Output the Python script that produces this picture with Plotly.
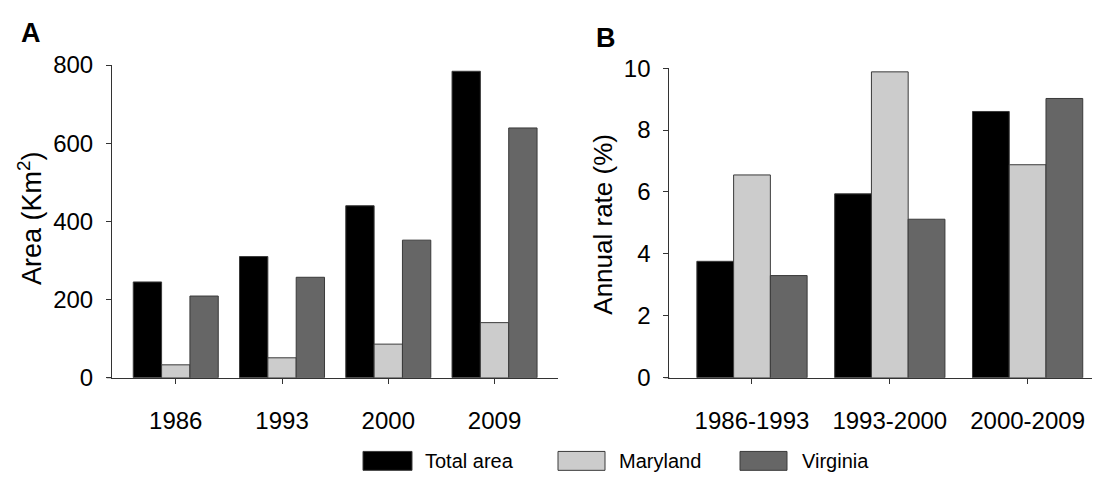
import plotly.graph_objects as go

# Panel A: urban area by year (km²)
years = ["1986", "1993", "2000", "2009"]
total_area = [245, 310, 440, 784]
maryland_area = [33, 51, 86, 141]
virginia_area = [209, 257, 352, 639]

# Panel B: annual growth rate (%) per period
periods = ["1986-1993", "1993-2000", "2000-2009"]
total_rate = [3.76, 5.94, 8.60]
maryland_rate = [6.55, 9.88, 6.88]
virginia_rate = [3.30, 5.12, 9.02]

series_names = ["Total area", "Maryland", "Virginia"]
fills = ["#000000", "#cccccc", "#666666"]
outline = "#3a3a3a"

W, H = 1101, 489
FONT = "Liberation Sans, Arial, sans-serif"


def px(x):
    return x / W


def py(y):
    return 1 - y / H


fig = go.Figure()

for name, vals, col in zip(series_names, [total_area, maryland_area, virginia_area], fills):
    fig.add_trace(go.Bar(x=years, y=vals, name=name, marker=dict(color=col, line=dict(color=outline, width=1)),
                         xaxis="x", yaxis="y", showlegend=False))

for name, vals, col in zip(series_names, [total_rate, maryland_rate, virginia_rate], fills):
    fig.add_trace(go.Bar(x=periods, y=vals, name=name, marker=dict(color=col, line=dict(color=outline, width=1)),
                         xaxis="x2", yaxis="y2", showlegend=False))

axis_common = dict(showline=True, linecolor="#333333", linewidth=1, ticks="outside", ticklen=5,
                   tickcolor="#333333", showgrid=False, zeroline=False,
                   tickfont=dict(family=FONT, size=24, color="#000000"))

fig.update_layout(
    width=W, height=H,
    margin=dict(l=0, r=0, t=0, b=0),
    paper_bgcolor="white", plot_bgcolor="white",
    barmode="group", bargap=0.2, bargroupgap=0,
    xaxis=dict(domain=[px(112), px(558.3)], anchor="y", type="category", range=[-0.6, 3.6],
               ticklabelstandoff=16, **axis_common),
    yaxis=dict(domain=[py(385), py(54)], anchor="x", range=[0, 800], tickvals=[0, 200, 400, 600, 800],
               ticklabelstandoff=8, **axis_common),
    xaxis2=dict(domain=[px(669.3), px(1091.7)], anchor="y2", type="category", range=[-0.6, 2.465],
                ticklabelstandoff=16, **axis_common),
    yaxis2=dict(domain=[py(385), py(57.3)], anchor="x2", range=[0, 10], tickvals=[0, 2, 4, 6, 8, 10],
                ticklabelstandoff=8, **axis_common),
)

annotations = [
    dict(text="<b>A</b>", x=px(31), y=py(20), font=dict(family=FONT, size=27, color="black")),
    dict(text="<b>B</b>", x=px(606), y=py(25), font=dict(family=FONT, size=27, color="black")),
    dict(text="Area (Km<sup>2</sup>)", x=px(30), y=py(216), textangle=-90,
         font=dict(family=FONT, size=27, color="black")),
    dict(text="Annual rate (%)", x=px(603), y=py(223), textangle=-90,
         font=dict(family=FONT, size=26, color="black")),
]
for a in annotations:
    a.update(xref="paper", yref="paper", showarrow=False, xanchor="center", yanchor="middle")

shapes = []
# short overhang of each x axis past its y axis
for x0, x1 in [(106.7, 112), (664.5, 669.3)]:
    shapes.append(dict(type="line", xref="paper", yref="paper", x0=px(x0), x1=px(x1), y0=py(385), y1=py(385),
                       line=dict(color="#333333", width=1)))

# legend row under both panels
legend_boxes = [(363, 412, 423), (558, 605, 617), (740, 787, 800)]
for (bx0, bx1, tx), name, col in zip(legend_boxes, series_names, fills):
    shapes.append(dict(type="rect", xref="paper", yref="paper", x0=px(bx0), x1=px(bx1), y0=py(483), y1=py(463),
                       fillcolor=col, line=dict(color=outline, width=1)))
    annotations.append(dict(text=name, x=px(tx), y=py(473), xref="paper", yref="paper", showarrow=False,
                            xanchor="left", yanchor="middle", font=dict(family=FONT, size=20, color="black")))

fig.update_layout(annotations=annotations, shapes=shapes)

fig.write_html("out.html")
